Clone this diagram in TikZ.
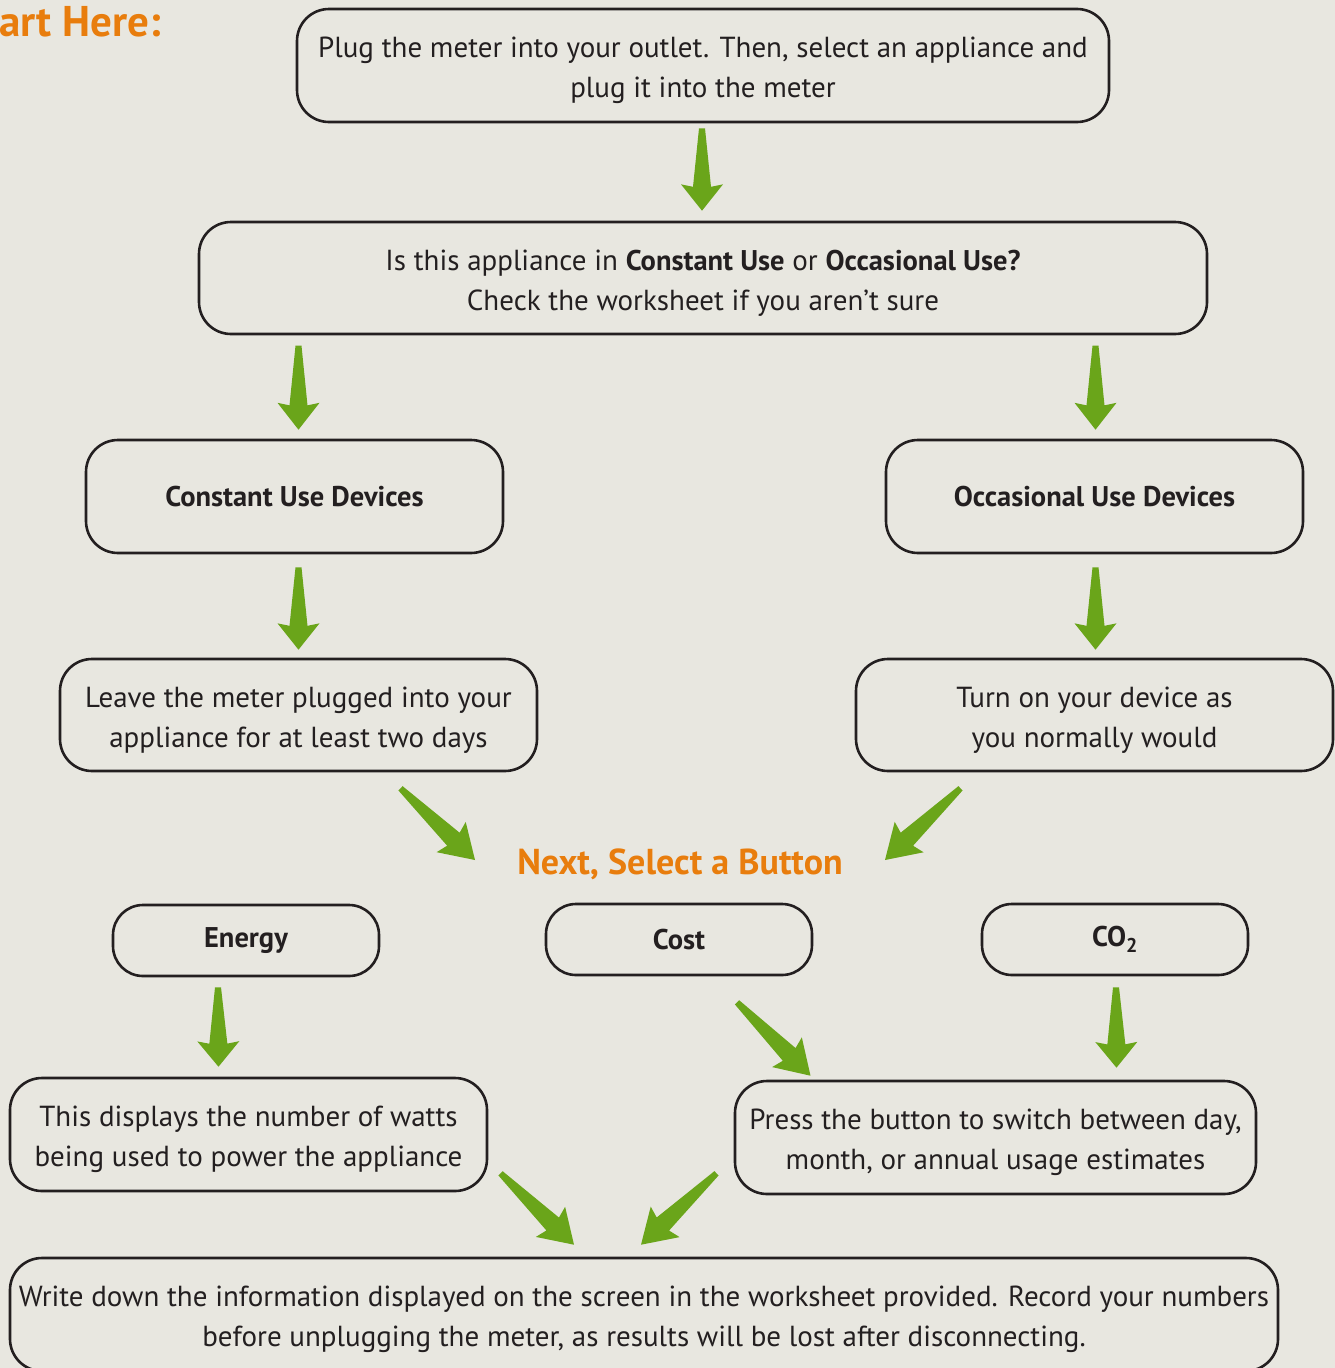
\documentclass[tikz,border=0pt]{standalone}
\usepackage{fontspec}
\setmainfont{PT Sans}
\newfontfamily\hd{PT Sans}
\usetikzlibrary{calc}
\definecolor{bg}{HTML}{E8E7E0}
\definecolor{ink}{HTML}{231F20}
\definecolor{grn}{HTML}{6AA51A}
\definecolor{org}{HTML}{E87D0D}
\tikzset{
  box/.style={draw=ink, line width=2.6pt, rounded corners=32pt, inner sep=0pt,
    align=center, text=ink, font=\fontsize{29}{40}\selectfont},
  body/.style={box},
  hbox/.style={box, font=\hd\bfseries\fontsize{28.5}{34}\selectfont},
  pill/.style={hbox, rounded corners=30pt, minimum width=266pt, minimum height=71pt},
  big/.style={minimum width=477pt, minimum height=112pt},
}
\newcommand\garr[2]{\fill[grn] ($(#1)!3pt!90:(#2)$) -- ($(#1)!0.71!(#2)!9pt!90:(#2)$) -- ($(#1)!0.68!(#2)!21pt!90:(#2)$) -- (#2) -- ($(#1)!0.68!(#2)!21pt!-90:(#2)$) -- ($(#1)!0.71!(#2)!9pt!-90:(#2)$) -- ($(#1)!3pt!-90:(#2)$) -- cycle;}
\newcommand\hb[1]{{\hd\bfseries\fontsize{28.5}{40}\selectfont #1}}
\newcommand\up{\rule{0pt}{30pt}}
\begin{document}
\begin{tikzpicture}[x=1pt,y=-1pt]
\useasboundingbox (0,0) rectangle (1335,1368);
\fill[bg] (0,0) rectangle (1335,1368);
\node[anchor=west, text=org, font=\hd\bfseries\fontsize{43}{43}\selectfont, inner sep=0pt] (start) at (-1,22) {art Here:};
\node[body, minimum width=812pt, minimum height=113pt] (top) at (703,65.5) {\up Plug the meter into your outlet. Then, select an appliance and\\plug it into the meter};
\node[body, minimum width=1008pt, minimum height=112pt] (q) at (703,278) {\up Is this appliance in \hb{Constant Use} or \hb{Occasional Use?}\\Check the worksheet if you aren’t sure};
\node[hbox, minimum width=417pt, minimum height=113pt] (cu) at (294.5,496.5) {Constant Use Devices};
\node[hbox, minimum width=417pt, minimum height=113pt] (ou) at (1094.5,496.5) {Occasional Use Devices};
\node[body, big] (lv) at (298.5,715) {\up Leave the meter plugged into your\\appliance for at least two days};
\node[body, big] (tn) at (1094.5,715) {\up Turn on your device as\\you normally would};
\node[text=org, font=\hd\bfseries\fontsize{36}{36}\selectfont, inner sep=0pt] (next) at (680,864) {Next, Select a Button};
\node[pill] (en) at (246,940.5) {Energy};
\node[pill] (co) at (679,939.5) {Cost};
\node[pill] (c2) at (1115,939.5) {CO\textsubscript{2}};
\node[body, minimum width=477pt, minimum height=113pt] (dp) at (248.5,1134.5) {\up This displays the number of watts\\being used to power the appliance};
\node[body, minimum width=521pt, minimum height=113pt] (pr) at (995.5,1137.5) {\up Press the button to switch between day,\\month, or annual usage estimates};
\node[body, minimum width=1268pt, minimum height=113pt] (wr) at (644,1314.5) {\up Write down the information displayed on the screen in the worksheet provided. Record your numbers\\before unplugging the meter, as results will be lost after disconnecting.};
% arrow end points
\coordinate (a1s) at ($(top.south)+(-1,5)$);   \coordinate (a1e) at ($(q.north)+(-1,-10)$);
\coordinate (a2s) at ($(cu.north)+(4,-93)$);   \coordinate (a2e) at ($(cu.north)+(4,-9)$);
\coordinate (a3s) at ($(ou.north)+(1,-93)$);   \coordinate (a3e) at ($(ou.north)+(1,-9)$);
\coordinate (a4s) at ($(cu.south)+(4,13)$);    \coordinate (a4e) at ($(lv.north)+(0,-8)$);
\coordinate (a5s) at ($(ou.south)+(1,13)$);    \coordinate (a5e) at ($(tn.north)+(1,-8)$);
\coordinate (a6s) at ($(lv.south)+(102,16)$);  \coordinate (a6e) at ($(next)+(-205,-4)$);
\coordinate (a7s) at ($(tn.south)+(-134,16)$); \coordinate (a7e) at ($(next)+(205,-4)$);
\coordinate (a8s) at ($(en.south)+(-28,10)$);  \coordinate (a8e) at ($(dp.north)+(-30,-10)$);
\coordinate (a9s) at ($(co.south)+(58,26)$);   \coordinate (a9e) at ($(pr.north)+(-185,-4)$);
\coordinate (a10s) at ($(c2.south)+(1,11)$);   \coordinate (a10e) at ($(pr.north)+(121,-12)$);
\coordinate (a11s) at ($(dp.south)+(252,-19)$); \coordinate (a11e) at ($(wr.north)+(-70,-12)$);
\coordinate (a12s) at ($(pr.south)+(-279,-22)$); \coordinate (a12e) at ($(wr.north)+(-3,-12)$);
\garr{a1s}{a1e}
\garr{a2s}{a2e}
\garr{a3s}{a3e}
\garr{a4s}{a4e}
\garr{a5s}{a5e}
\garr{a6s}{a6e}
\garr{a7s}{a7e}
\garr{a8s}{a8e}
\garr{a9s}{a9e}
\garr{a10s}{a10e}
\garr{a11s}{a11e}
\garr{a12s}{a12e}
\end{tikzpicture}
\end{document}
